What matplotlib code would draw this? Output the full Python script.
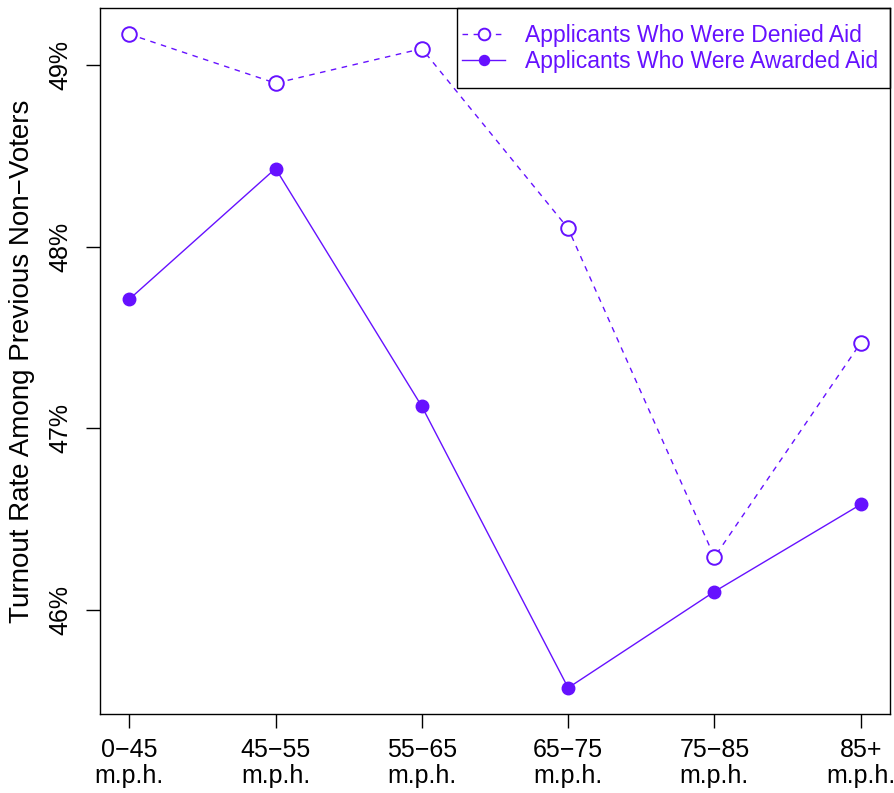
import matplotlib.pyplot as plt
from matplotlib.patches import Rectangle
import numpy as np

plt.rcParams['font.family'] = ['Liberation Sans', 'DejaVu Sans']

speed_bins = ['0\u221245\nm.p.h.', '45\u221255\nm.p.h.', '55\u221265\nm.p.h.',
              '65\u221275\nm.p.h.', '75\u221285\nm.p.h.', '85+\nm.p.h.']
denied = [49.17, 48.90, 49.09, 48.10, 46.29, 47.47]
awarded = [47.71, 48.43, 47.12, 45.57, 46.10, 46.58]
yticks = [46, 47, 48, 49]

col = '#6611FF'

fig = plt.figure(figsize=(8.94, 7.93), dpi=100)
ax = fig.add_axes([100 / 894, 1 - 714 / 793, 790 / 894, 706 / 793])

x = np.arange(1, len(speed_bins) + 1)
ax.plot(x, denied, color=col, lw=1, ls=(0, (4, 4)), marker='o', ms=10.5,
        mfc='white', mec=col, mew=1.4, label='Applicants Who Were Denied Aid')
ax.plot(x, awarded, color=col, lw=1, marker='o', ms=9, mfc=col, mec=col,
        label='Applicants Who Were Awarded Aid')

# base-R style 4% padding on both axes
allv = denied + awarded
lo, hi = min(allv), max(allv)
pad = 0.04 * (hi - lo)
ax.set_ylim(lo - pad, hi + pad)
ax.set_xlim(1 - 0.04 * 5, 6 + 0.04 * 5)

ax.set_xticks(x)
ax.set_xticklabels(speed_bins, fontsize=18, linespacing=1.15)
ax.set_yticks(yticks)
ax.set_yticklabels([f'{v}%' for v in yticks], fontsize=18, rotation=90,
                   va='center')
ax.tick_params(direction='out', length=10, width=1)
ax.tick_params(axis='x', pad=7)
ax.tick_params(axis='y', pad=10)
ax.set_ylabel('Turnout Rate Among Previous Non\u2212Voters', fontsize=20)
ax.yaxis.set_label_coords(-0.082, 0.5)

for s in ax.spines.values():
    s.set_linewidth(1)

leg = ax.legend(loc='center left', bbox_to_anchor=(0.458, 0.942),
                fontsize=16.5, frameon=False, borderaxespad=0, borderpad=0,
                handlelength=1.9, handletextpad=0.87, labelspacing=0.13,
                markerscale=0.8)
for t in leg.get_texts():
    t.set_color(col)
# legend box drawn separately for R-like padding
ax.add_patch(Rectangle((0.452, 0.887), 0.548, 0.113, transform=ax.transAxes,
                       fill=False, ec='black', lw=1, clip_on=False, zorder=5))

fig.savefig('out.png', dpi=100)
